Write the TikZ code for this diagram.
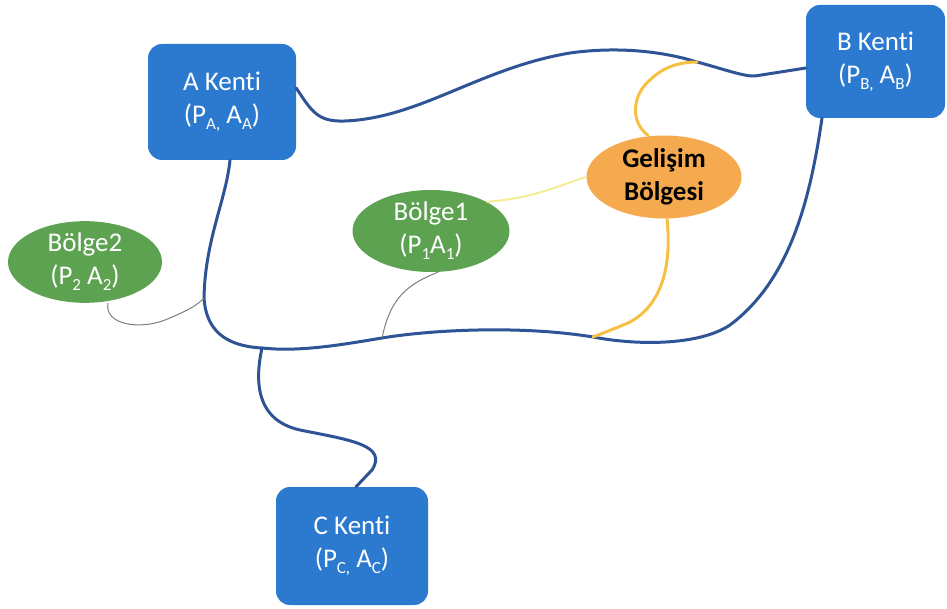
\documentclass[tikz,border=0pt]{standalone}
\usepackage{fontspec}
\setmainfont[Ligatures={NoCommon}]{Carlito}
\usetikzlibrary{shapes.geometric}
\definecolor{boxblue}{RGB}{43,122,208}
\definecolor{lineblue}{RGB}{46,84,150}
\definecolor{greenfill}{RGB}{92,162,80}
\definecolor{orangefill}{RGB}{245,170,80}
\definecolor{yelline}{RGB}{246,192,66}
\definecolor{lightyel}{RGB}{244,236,150}
\definecolor{grayline}{RGB}{120,130,120}
\newcommand{\lowsub}[1]{\raisebox{-6pt}{\fontsize{17}{17}\selectfont #1}}
\tikzset{
  city/.style={rectangle, rounded corners=14pt, fill=boxblue, text=white, align=center, inner sep=0pt},
  region/.style={ellipse, fill=greenfill, text=white, align=center, inner sep=0pt},
  devel/.style={ellipse, fill=orangefill, text=black, align=center, inner sep=0pt, font=\fontsize{27}{33}\selectfont\bfseries},
  road/.style={draw=lineblue, line width=3pt, line cap=round, line join=round},
  thinlink/.style={draw=grayline, line width=1pt},
  yellink/.style={draw=yelline, line width=3pt, line cap=round},
  lightlink/.style={draw=lightyel, line width=2pt},
}
\begin{document}
\begin{tikzpicture}[x=1pt,y=-1pt, every node/.style={font=\fontsize{27}{33}\selectfont}]
\useasboundingbox (0,0) rectangle (947,609);
% nodes
\node[city, minimum width=148pt, minimum height=116pt] (A) at (222,102) {A Kenti\\(P\lowsub{A,} A\lowsub{A})};
\node[city, minimum width=139pt, minimum height=113pt] (B) at (875.5,61.5) {B Kenti\\(P\lowsub{B,} A\lowsub{B})};
\node[city, minimum width=152pt, minimum height=118pt] (C) at (352,546) {C Kenti\\(P\lowsub{C,} A\lowsub{C})};
\node[region, minimum width=154pt, minimum height=80pt] (b2) at (85,262) {Bölge2\\(P\lowsub{2} A\lowsub{2})};
\node[region, minimum width=157pt, minimum height=82pt] (b1) at (431,231) {Bölge1\\(P\lowsub{1}A\lowsub{1})};
\node[devel, minimum width=155pt, minimum height=83pt] (g) at (664,177) {Gelişim\\Bölgesi};
% junction coordinates
\coordinate (j1) at (204,298);
\coordinate (j2) at (382,338);
\coordinate (j3) at (593,337);
\coordinate (j4) at (697,62);
\coordinate (j5) at (262,348);
% roads
\draw[road] (A.east |- 0,88) .. controls (312,112) and (318,122) .. (345,121)
  .. controls (420,118) and (480,68) .. (570,53)
  .. controls (620,46) and (665,52) .. (j4)
  .. controls (720,68) and (745,77) .. (755,76) -- (B.west |- 0,68);
\draw[road] (A.south -| 230,0) .. controls (226,200) and (205,240) .. (j1)
  .. controls (206,330) and (225,346) .. (j5)
  .. controls (300,352) and (340,345) .. (j2)
  .. controls (430,330) and (520,325) .. (j3)
  .. controls (640,346) and (700,345) .. (730,325)
  .. controls (790,280) and (810,200) .. (B.south -| 822,0);
\draw[road] (j5) .. controls (255,380) and (255,420) .. (300,430)
  .. controls (350,440) and (388,445) .. (372,470) -- (C.north -| 356,0);
% thin links
\draw[thinlink] (b2.south -| 108,0) .. controls (104,325) and (140,330) .. (165,320) .. controls (185,312) and (198,305) .. (j1);
\draw[thinlink] (b1.south -| 438,0) .. controls (405,285) and (390,300) .. (j2);
\draw[lightlink] (b1.north east) .. controls (535,198) and (560,185) .. (g.west);
\draw[yellink] (g.north -| 648,0) .. controls (630,122) and (632,95) .. (650,80) .. controls (662,68) and (678,62) .. (j4);
\draw[yellink] (g.south -| 667,0) .. controls (672,265) and (662,305) .. (630,322) .. controls (612,330) and (600,334) .. (j3);
\end{tikzpicture}
\end{document}
